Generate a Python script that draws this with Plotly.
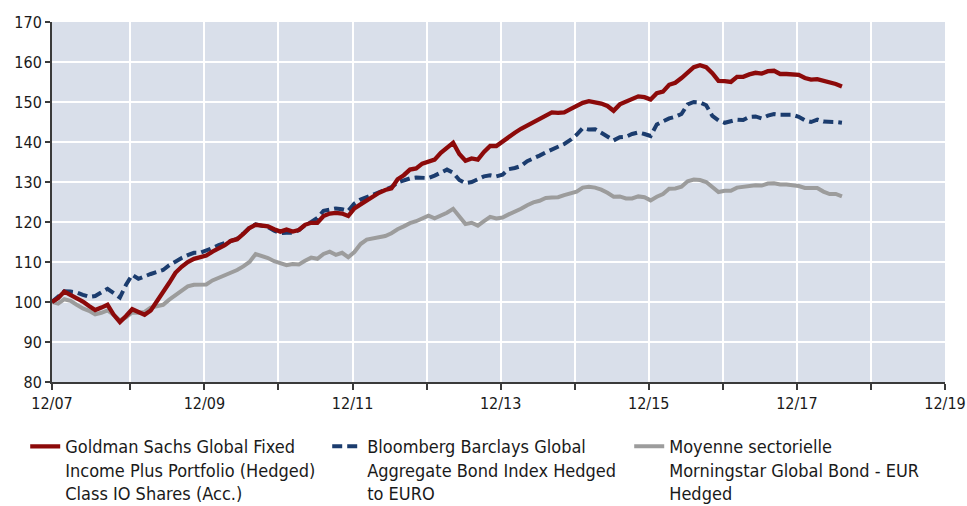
import plotly.graph_objects as go

# Monthly index values (base 100 at 12/07)
goldman = [100.0, 101.0, 102.6, 101.8, 100.8, 100.1, 99.0, 98.0, 98.6, 99.3,
           96.8, 95.0, 96.5, 98.2, 97.5, 96.8, 97.9, 100.0, 102.5, 104.8,
           107.3, 108.8, 110.0, 110.8, 111.2, 111.6, 112.6, 113.3, 114.2, 115.3,
           115.7, 117.0, 118.5, 119.3, 119.2, 118.9, 118.2, 117.6, 118.1, 117.6,
           118.0, 119.3, 119.8, 119.8, 121.5, 122.1, 122.3, 122.1, 121.5, 123.4,
           124.4, 125.4, 126.3, 127.3, 128.0, 128.4, 130.7, 131.7, 133.1, 133.4,
           134.6, 135.2, 135.6, 137.3, 138.5, 139.8, 137.0, 135.3, 135.9, 135.6,
           137.5, 139.0, 139.0, 140.2, 141.4, 142.3, 143.3, 144.1, 145.0, 146.0,
           146.8, 147.4, 147.3, 147.4, 148.2, 149.0, 149.8, 150.2, 149.9, 149.6,
           149.0, 147.8, 149.4, 150.0, 150.6, 151.4, 151.2, 150.6, 152.2, 152.6,
           154.3, 154.8, 156.0, 157.5, 158.7, 159.2, 158.7, 157.2, 155.3, 155.2,
           155.0, 156.3, 156.3, 156.9, 157.3, 157.1, 157.7, 157.8, 157.0, 157.0,
           157.0, 156.8, 156.0, 155.6, 155.7, 155.3, 155.1, 154.5, 153.9]

bloomberg = [100.0, 101.5, 102.7, 102.6, 102.4, 101.8, 101.3, 101.5, 102.5, 103.3,
             102.2, 101.1, 104.3, 106.8, 105.8, 106.5, 107.0, 107.5, 108.0, 109.2,
             110.2, 111.0, 111.7, 112.3, 112.3, 112.8, 113.5, 114.2, 114.7, 115.4,
             115.8, 117.1, 118.6, 119.4, 119.1, 118.7, 117.8, 117.2, 117.3, 117.3,
             118.0, 119.2, 120.0, 121.0, 122.8, 123.2, 123.4, 123.2, 122.8, 124.6,
             125.6, 126.2, 126.8, 127.5, 128.2, 128.7, 129.9, 130.5, 130.9, 131.1,
             131.0, 131.0, 131.6, 132.3, 133.1, 132.3, 130.5, 129.7, 130.0, 130.7,
             131.4, 131.7, 131.4, 131.8, 133.2, 133.5, 134.0, 135.2, 135.8, 136.6,
             137.4, 138.2, 138.8, 139.5, 140.5, 141.8, 143.5, 143.1, 143.2, 142.3,
             141.2, 140.4, 141.2, 141.3, 142.0, 142.4, 142.0, 141.5, 144.4, 145.2,
             145.9, 146.3, 147.0, 149.4, 150.0, 149.9, 149.2, 146.5, 145.4, 144.8,
             145.2, 145.6, 145.5, 146.3, 146.4, 145.9, 146.6, 147.0, 146.8, 146.8,
             146.8, 146.3, 145.4, 145.0, 145.6, 145.1, 145.1, 145.0, 144.8]

morningstar = [100.0, 99.6, 100.7, 100.3, 99.3, 98.4, 97.8, 96.9, 97.3, 97.9,
               96.8, 95.4, 96.2, 97.4, 97.3, 97.5, 98.6, 98.9, 99.3, 100.6,
               101.8, 102.9, 103.9, 104.3, 104.3, 104.4, 105.4, 106.0, 106.6, 107.3,
               108.0, 108.9, 110.0, 112.0, 111.5, 111.0, 110.2, 109.6, 109.2, 109.5,
               109.4, 110.3, 111.1, 110.8, 112.0, 112.6, 111.8, 112.3, 111.2, 112.5,
               114.5, 115.6, 115.9, 116.1, 116.5, 117.2, 118.2, 118.9, 119.7, 120.2,
               121.0, 121.6, 120.9, 121.5, 122.3, 123.3, 121.5, 119.5, 119.8, 119.1,
               120.2, 121.3, 120.9, 121.1, 121.9, 122.5, 123.3, 124.2, 124.9, 125.3,
               126.0, 126.1, 126.2, 126.7, 127.2, 127.6, 128.6, 128.8, 128.6, 128.1,
               127.3, 126.3, 126.4, 125.9, 125.9, 126.4, 126.2, 125.4, 126.3, 127.0,
               128.3, 128.4, 128.8, 130.2, 130.6, 130.5, 130.0, 128.8, 127.5, 127.8,
               127.8, 128.6, 128.8, 129.1, 129.2, 129.1, 129.6, 129.7, 129.4, 129.4,
               129.3, 129.0, 128.5, 128.4, 128.5, 127.6, 127.0, 127.0, 126.4]

tick_labels = ["12/07", "", "12/09", "", "12/11", "", "12/13", "", "12/15", "", "12/17", "", "12/19"]

names = [
    "Goldman Sachs Global Fixed<br>Income Plus Portfolio (Hedged)<br>Class IO Shares (Acc.)",
    "Bloomberg Barclays Global<br>Aggregate Bond Index Hedged<br>to EURO",
    "Moyenne sectorielle<br>Morningstar Global Bond - EUR<br>Hedged",
]

months = list(range(len(goldman)))
first_gap = 12.7  # first year-end gridline offset (months) from start
tick_vals = [0] + [first_gap + 12 * k for k in range(12)]

FONT = "DejaVu Sans Condensed, Liberation Sans Narrow, sans-serif"

fig = go.Figure()
fig.add_trace(go.Scatter(x=months, y=morningstar, mode="lines", name=names[2],
                         line=dict(color="#9c9c9c", width=4)))
fig.add_trace(go.Scatter(x=months, y=bloomberg, mode="lines", name=names[1],
                         line=dict(color="#1b3c6e", width=4, dash="10px,5px")))
fig.add_trace(go.Scatter(x=months, y=goldman, mode="lines", name=names[0],
                         line=dict(color="#8c0a0a", width=4.3)))

fig.update_layout(
    width=967, height=506,
    margin=dict(l=52, r=22, t=22, b=124, autoexpand=False),
    paper_bgcolor="white",
    plot_bgcolor="#d9dfea",
    font=dict(family=FONT, size=16, color="#1a1a1a"),
    showlegend=True,
    legend=dict(
        orientation="h", traceorder="reversed",
        x=-0.03, xanchor="left", y=-0.128, yanchor="top",
        valign="top", entrywidth=257, entrywidthmode="pixels",
        font=dict(family=FONT, size=18, color="#1a1a1a"),
        bgcolor="rgba(0,0,0,0)", itemwidth=30,
    ),
)

fig.update_xaxes(
    range=[0, tick_vals[-1]],
    tickmode="array", tickvals=tick_vals, ticktext=tick_labels,
    showgrid=True, gridcolor="white", gridwidth=2,
    showline=True, linecolor="#3a3a3a", linewidth=2,
    ticks="outside", ticklen=6, tickwidth=1.5, tickcolor="#3a3a3a",
    zeroline=False,
)
fig.update_yaxes(
    range=[80, 170], dtick=10, tick0=80,
    showgrid=True, gridcolor="white", gridwidth=2,
    showline=True, linecolor="#3a3a3a", linewidth=2,
    ticks="outside", ticklen=5, tickwidth=1.5, tickcolor="#3a3a3a",
    zeroline=False,
)

fig.write_html(
    "out.html",
    config={"displayModeBar": False},
    post_script="document.body.style.margin='0';document.body.style.overflow='hidden';",
)
